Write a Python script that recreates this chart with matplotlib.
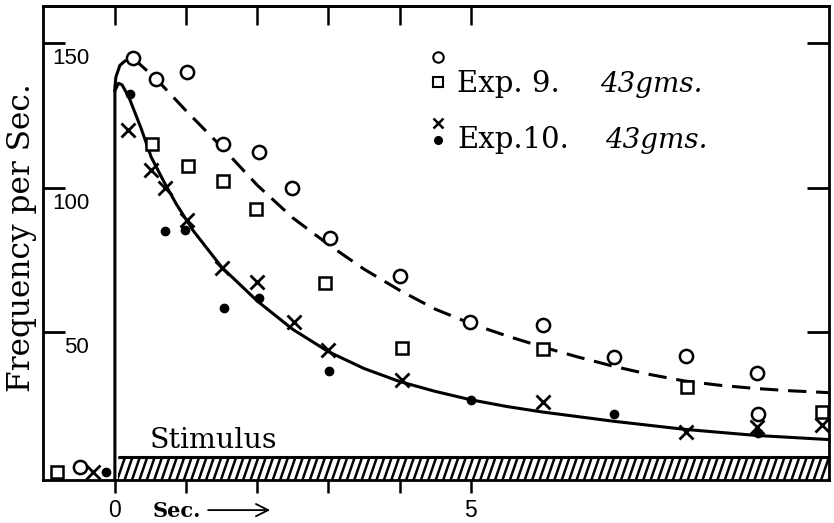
import matplotlib
matplotlib.use("Agg")
import matplotlib.pyplot as plt
from matplotlib.patches import Rectangle
from matplotlib.collections import LineCollection
import numpy as np

# ---- data -----------------------------------------------------------------
# Exp. 9 (43 gms): open circles and open squares, time in seconds
exp9_circle_t = [-0.49, 0.26, 0.58, 1.01, 1.52, 2.02, 2.49, 3.02, 4.01, 4.99, 6.01, 7.01, 8.02, 9.02, 9.03]
exp9_circle_f = [3.6, 144.6, 137.5, 140.0, 115.0, 112.4, 99.7, 82.5, 69.4, 53.7, 52.5, 41.6, 41.8, 35.8, 21.8]
exp9_square_t = [-0.81, 0.52, 1.02, 1.52, 1.98, 2.95, 4.03, 6.01, 8.03, 9.93]
exp9_square_f = [1.9, 115.0, 107.5, 102.4, 92.5, 66.9, 44.5, 44.1, 31.2, 22.6]

# Exp. 10 (43 gms): crosses and dots
exp10_cross_t = [-0.31, 0.19, 0.50, 0.71, 1.01, 1.50, 1.99, 2.51, 3.00, 4.03, 6.01, 8.02, 9.02, 9.93]
exp10_cross_f = [1.9, 119.9, 106.0, 99.7, 88.8, 72.1, 67.5, 53.7, 43.9, 33.5, 26.0, 15.7, 17.4, 18.0]
exp10_dot_t = [-0.13, 0.21, 0.71, 0.98, 1.53, 2.03, 3.01, 5.00, 7.01, 9.03]
exp10_dot_f = [1.9, 132.3, 85.1, 85.3, 58.5, 61.7, 36.7, 26.6, 21.7, 15.1]

# onset of discharge at the start of the stimulus
onset_t = [0.0, 0.0, 0.014, 0.07, 0.14, 0.26]
onset_f = [-1.0, 134.7, 138.2, 142.2, 143.7, 144.6]

# smooth curve drawn through Exp. 9
curve9_t = [0.26, 0.6, 1.0, 1.5, 2.0, 2.5, 3.0, 3.5, 4.0, 4.5, 5.0, 5.5, 6.0, 6.5,
            7.0, 7.5, 8.0, 8.5, 9.0, 9.5, 10.0, 10.1]
curve9_f = [144.6, 137, 126.5, 114, 100.8, 89.5, 80.3, 71.8, 64.5, 58, 53, 48.8, 45, 41.5,
            38.3, 35.5, 33.2, 31.7, 30.6, 29.8, 29.2, 29.1]

# smooth curve drawn through Exp. 10
curve10_t = [0.0, 0.05, 0.1, 0.2, 0.37, 0.51, 0.68, 0.86, 1.1, 1.5, 2.0, 2.5, 3.0,
             3.5, 4.0, 4.5, 5.0, 5.5, 6.0, 7.0, 8.0, 9.0, 10.0, 10.1]
curve10_f = [133.5, 136, 135.5, 131, 120.3, 110.5, 102.4, 94.4, 85.1, 72.5, 60.8,
             51.0, 43.3, 37.5, 33.0, 29.6, 26.7, 24.4, 22.5, 19.3, 16.5, 14.4, 13.0, 12.9]

y_ticks = [50, 100, 150]
x_ticks = [0, 1, 2, 3, 4, 5]
x_tick_labels = ["0", "", "", "", "", "5"]

stim_start, stim_end, stim_top = 0.04, 10.03, 7.0

# ---- figure ---------------------------------------------------------------
SERIF = ["DejaVu Serif"]
SANS = ["Liberation Sans", "DejaVu Sans"]

fig = plt.figure(figsize=(8.34, 5.23), dpi=100)
ax = fig.add_axes([43 / 834, 1 - 480 / 523, (829 - 43) / 834, (480 - 6) / 523])
x0, x1, y0, y1 = -1.01, 10.03, -1.0, 162.7
ax.set_xlim(x0, x1)
ax.set_ylim(y0, y1)

for sp in ax.spines.values():
    sp.set_linewidth(2.0)

# ticks: inward on left/right/top, outward at the bottom
ax.set_yticks(y_ticks)
ax.tick_params(axis="y", which="major", direction="in", length=15.5, width=2.0,
               left=True, right=True, labelleft=False, labelright=False)
ax.set_xticks(x_ticks)
ax.set_xticklabels(x_tick_labels, fontfamily=SANS, fontsize=16.5)
ax.tick_params(axis="x", which="major", direction="out", length=9.5, width=1.8,
               pad=4, bottom=True, top=False)
top = ax.secondary_xaxis("top")
top.set_xticks(x_ticks)
top.set_xticklabels([])
top.tick_params(direction="in", length=13.5, width=1.8)
top.spines["top"].set_linewidth(2.0)

# y tick labels sit just below each tick, inside the frame
px_per_unit = (480 - 6) / (y1 - y0)
for v in y_ticks:
    ax.text(-0.36, v - 15.5 / px_per_unit, str(v), ha="right", va="center",
            fontfamily=SANS, fontsize=16)

# stimulus bar with steep diagonal hatching
bar = Rectangle((stim_start, y0), stim_end - stim_start, stim_top - y0,
                facecolor="white", edgecolor="none", zorder=2)
ax.add_patch(bar)
spacing = 7.4 / 71.1
lean = 8.0 / 71.1
starts = np.arange(stim_start - lean, stim_end + spacing, spacing)
segs = [[(s, y0), (s + lean, stim_top)] for s in starts]
stripes = LineCollection(segs, colors="black", linewidths=1.8, zorder=3)
ax.add_collection(stripes)
stripes.set_clip_path(bar)
ax.hlines(stim_top, stim_start, stim_end, colors="black", linewidth=2.2, zorder=4)
ax.text(0.49, 10.0, "Stimulus", fontfamily=SERIF, fontsize=20.5, ha="left",
        va="baseline")

# curves
ax.plot(onset_t, onset_f, color="black", lw=2.2, solid_capstyle="butt", zorder=5)
ax.plot(curve9_t, curve9_f, color="black", lw=2.2, linestyle=(0, (6, 3.2)), zorder=5)
ax.plot(curve10_t, curve10_f, color="black", lw=2.2, zorder=5)

# observations
ax.plot(exp9_circle_t, exp9_circle_f, "o", ms=9.5, mfc="white", mec="black", mew=1.8,
        zorder=6)
ax.plot(exp9_square_t, exp9_square_f, "s", ms=9.0, mfc="white", mec="black", mew=1.8,
        zorder=6)
ax.plot(exp10_cross_t, exp10_cross_f, "x", ms=10.5, mec="black", mew=2.0, zorder=6)
ax.plot(exp10_dot_t, exp10_dot_f, "o", ms=6.0, mfc="black", mec="black", zorder=6)

# key
ax.plot([4.54], [145.2], "o", ms=7.5, mfc="white", mec="black", mew=1.5, clip_on=False)
ax.plot([4.54], [136.5], "s", ms=7.0, mfc="white", mec="black", mew=1.5, clip_on=False)
ax.plot([4.54], [122.2], "x", ms=7.5, mec="black", mew=1.8, clip_on=False)
ax.plot([4.54], [116.4], "o", ms=5.5, mfc="black", mec="black", clip_on=False)
ax.text(4.81, 133.1, "Exp. 9.", fontfamily=SERIF, fontsize=21, va="baseline")
ax.text(6.82, 133.1, "43gms.", fontfamily=SERIF, fontstyle="italic", fontsize=20,
        va="baseline")
ax.text(4.81, 113.5, "Exp.10.", fontfamily=SERIF, fontsize=21, va="baseline")
ax.text(6.89, 113.5, "43gms.", fontfamily=SERIF, fontstyle="italic", fontsize=20,
        va="baseline")

# time direction under the axis
ax.text(0.53, -13.7, "Sec.", fontfamily=SERIF, fontweight="bold", fontsize=15,
        va="baseline", clip_on=False)
ax.annotate("", xy=(2.22, -11.4), xytext=(1.27, -11.4), xycoords="data",
            arrowprops=dict(arrowstyle="->", lw=1.3, color="black",
                            mutation_scale=22), annotation_clip=False)

fig.text(22 / 834, 1 - 238 / 523, "Frequency per Sec.", rotation=90, ha="center",
         va="center", fontfamily=SERIF, fontsize=22.5)

fig.savefig("out.png", dpi=100, facecolor="white")
